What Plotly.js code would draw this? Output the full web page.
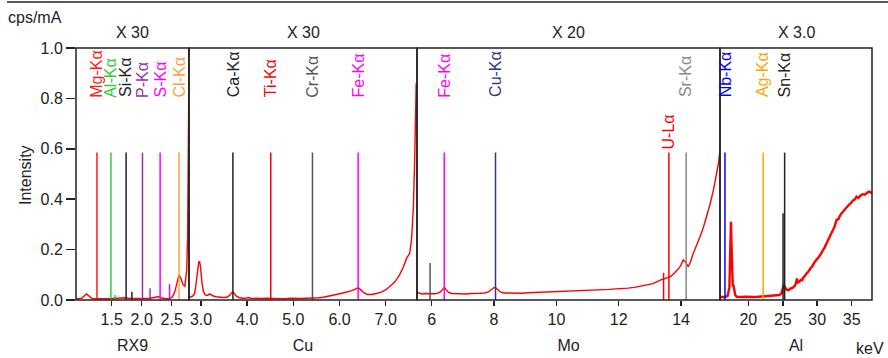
<!DOCTYPE html>
<html>
<head>
<meta charset="utf-8">
<script src="https://cdn.plot.ly/plotly-3.0.1.min.js"></script>
<style>html,body{margin:0;padding:0;background:#fff;}#chart{width:888px;height:358px;}</style>
</head>
<body>
<div id="chart"></div>
<script>
// ---- Spectrum data (keV, cps/mA scaled) ----
const p1Energy = [0.905,0.95,1.0,1.03,1.06,1.08,1.1,1.13,1.17,1.22,1.28,1.35,1.42,1.5,1.58,1.65,1.69,1.73,1.8,1.88,1.96,2.04,2.12,2.2,2.25,2.28,2.32,2.38,2.45,2.5,2.53,2.56,2.6,2.62,2.65,2.69,2.72,2.75,2.765,2.775,2.782,2.788];
const p1Int    = [0.006,0.005,0.007,0.012,0.02,0.024,0.02,0.012,0.006,0.005,0.006,0.005,0.005,0.006,0.007,0.009,0.011,0.009,0.006,0.005,0.005,0.006,0.006,0.008,0.012,0.014,0.009,0.006,0.005,0.01,0.02,0.04,0.085,0.1,0.088,0.06,0.055,0.12,0.25,0.45,0.75,1.05];

const p2Energy = [2.74,2.78,2.82,2.86,2.89,2.92,2.95,2.97,2.99,3.02,3.05,3.09,3.14,3.18,3.22,3.27,3.33,3.4,3.48,3.56,3.62,3.66,3.69,3.72,3.76,3.82,3.9,3.98,4.02,4.08,4.18,4.3,4.42,4.55,4.68,4.8,4.93,5.05,5.18,5.3,5.42,5.55,5.65,5.75,5.85,5.95,6.05,6.15,6.25,6.33,6.4,6.45,6.52,6.6,6.7,6.8,6.9,7.0,7.1,7.2,7.3,7.38,7.45,7.52,7.56,7.6,7.63,7.65,7.66];
const p2Int    = [0.012,0.012,0.015,0.025,0.06,0.12,0.15,0.152,0.13,0.07,0.035,0.02,0.018,0.024,0.02,0.016,0.013,0.011,0.01,0.011,0.018,0.028,0.033,0.026,0.016,0.01,0.007,0.008,0.01,0.007,0.006,0.006,0.007,0.006,0.006,0.005,0.007,0.006,0.006,0.007,0.007,0.009,0.011,0.014,0.018,0.023,0.027,0.031,0.036,0.042,0.048,0.042,0.03,0.022,0.022,0.026,0.031,0.04,0.055,0.072,0.1,0.13,0.165,0.185,0.24,0.37,0.57,0.83,0.86];

const p3Energy = [5.53,5.6,5.7,5.8,5.9,6.0,6.1,6.2,6.28,6.34,6.4,6.46,6.54,6.65,6.8,6.95,7.1,7.25,7.4,7.55,7.7,7.82,7.92,8.0,8.06,8.12,8.2,8.32,8.5,8.7,8.9,9.1,9.3,9.5,9.7,9.9,10.1,10.3,10.5,10.7,10.9,11.1,11.3,11.5,11.7,11.9,12.1,12.3,12.5,12.7,12.9,13.1,13.33,13.5,13.65,13.8,13.97,14.07,14.15,14.23,14.3,14.39,14.5,14.61,14.72,14.82,14.93,15.04,15.12,15.2,15.25];
const p3Int    = [0.03,0.027,0.024,0.026,0.025,0.027,0.025,0.027,0.032,0.04,0.05,0.042,0.03,0.026,0.025,0.027,0.024,0.026,0.025,0.027,0.028,0.032,0.042,0.05,0.048,0.04,0.032,0.028,0.027,0.028,0.027,0.029,0.03,0.031,0.03,0.033,0.032,0.035,0.034,0.036,0.036,0.039,0.04,0.041,0.042,0.044,0.045,0.047,0.05,0.054,0.058,0.065,0.079,0.085,0.092,0.108,0.132,0.159,0.15,0.132,0.15,0.185,0.215,0.251,0.29,0.331,0.38,0.437,0.49,0.542,0.595];

const p4Energy = [15.89,16.2,16.6,17.0,17.25,17.38,17.48,17.56,17.64,17.74,17.84,17.95,18.1,18.3,18.6,19.0,19.5,20,20.5,21,21.5,22,22.5,23,23.5,24,24.5,24.8,25.0,25.15,25.3,25.5,25.8,26.1,26.4,26.7,26.9,27.05,27.2,27.4,27.6,27.8,28.0,28.2,28.46,28.7,29.0,29.3,29.6,29.9,30.2,30.5,30.8,31.1,31.36,31.6,31.9,32.2,32.5,32.8,33.1,33.4,33.7,34.0,34.3,34.6,34.9,35.2,35.5,35.7,36.0,36.3,36.6,36.9,37.2,37.5,37.7,37.94];
const p4Int    = [0.012,0.011,0.012,0.016,0.05,0.2,0.31,0.22,0.08,0.055,0.06,0.045,0.02,0.013,0.012,0.012,0.013,0.012,0.013,0.012,0.013,0.014,0.016,0.015,0.017,0.018,0.02,0.026,0.045,0.06,0.052,0.042,0.038,0.045,0.048,0.055,0.065,0.085,0.07,0.072,0.08,0.078,0.09,0.095,0.106,0.112,0.125,0.135,0.15,0.159,0.17,0.182,0.195,0.21,0.225,0.24,0.258,0.272,0.29,0.317,0.322,0.34,0.35,0.362,0.37,0.378,0.385,0.395,0.4,0.41,0.405,0.415,0.42,0.418,0.425,0.43,0.428,0.423];

// ---- Element marker lines ----
const lineNames  = ["Mg-Kα","Al-Kα","Si-Kα","P-Kα","S-Kα","Cl-Kα","Ca-Kα","Ti-Kα","Cr-Kα","Fe-Kα","Fe-Kα","Cu-Kα","U-Lα","Sr-Kα","Nb-Kα","Ag-Kα","Sn-Kα"];
const lineEnergy = [1.254,1.487,1.740,2.013,2.307,2.622,3.691,4.510,5.414,6.403,6.403,8.047,13.61,14.165,16.61,22.16,25.27];
const linePanel  = [1,1,1,1,1,1,2,2,2,2,3,3,3,3,4,4,4];
const lineHeight = [0.585,0.585,0.585,0.585,0.585,0.585,0.585,0.585,0.585,0.585,0.585,0.585,0.585,0.585,0.585,0.585,0.585];

const minorNames  = ["Al-Kβ","Si-Kβ","P-Kβ","S-Kβ","Cr-Kβ","U-Lα2","Sn-Kα2"];
const minorEnergy = [1.557,1.836,2.139,2.464,5.947,13.44,25.04];
const minorPanel  = [1,1,1,1,3,3,4];
const minorHeight = [0.02,0.033,0.047,0.063,0.147,0.108,0.344];

// ---- Axis labels ----
const panelTitles = ["RX9","Cu","Mo","Al"];
const panelScale  = ["X 30","X 30","X 20","X 3.0"];
const panelTicks  = [[1.5,2.0,2.5],[3,4,5,6,7],[6,8,10,12,14],[20,25,30,35]];
const panelTickText = [["1.5","2.0","2.5"],["3.0","4.0","5.0","6.0","7.0"],["6","8","10","12","14"],["20","25","30","35"]];
const yTicks = [0,0.2,0.4,0.6,0.8,1.0];
const yTickText = ["0.0","0.2","0.4","0.6","0.8","1.0"];

// ---- Styles ----
const colorOf = {
  "Mg":"#ff1a1a","Al":"#33cc33","Si":"#222222","P":"#9933aa","S":"#ff00ff","Cl":"#ffa040",
  "Ca":"#222222","Ti":"#ff0000","Cr":"#555555","Fe":"#ff00ff","Cu":"#333388","U":"#ff0000",
  "Sr":"#888888","Nb":"#0000ff","Ag":"#ffa500","Sn":"#222222"
};
const ranges = [[0.905,2.788],[2.74,7.678],[5.528,15.25],[15.89,37.95]];
const W = 888, H = 358, ML = 76, MR = 16, MT = 48, MB = 58;
const PW = W - ML - MR, PH = H - MT - MB;
const edgesPx = [76,189,417,720,872];
const dom = edgesPx.map(p => (p - ML) / PW);
const FONT = "Liberation Sans, Arial, sans-serif";
const INK = "#222222";

const specE = [p1Energy,p2Energy,p3Energy,p4Energy];
const specI = [p1Int,p2Int,p3Int,p4Int];
const axName = i => i === 0 ? "x" : "x" + (i + 1);

const traces = [];
for (let i = 0; i < 4; i++) {
  traces.push({x: specE[i], y: specI[i], xaxis: axName(i), yaxis: "y", type: "scatter", mode: "lines",
    line: {color: "#ff0000", width: i === 3 ? 2.4 : 1.4}, hoverinfo: "skip", showlegend: false, cliponaxis: true});
}
const el = n => n.split("-")[0];
lineNames.forEach((n, k) => {
  traces.push({x: [lineEnergy[k], lineEnergy[k]], y: [0, lineHeight[k]], xaxis: axName(linePanel[k]-1), yaxis: "y",
    type: "scatter", mode: "lines", line: {color: colorOf[el(n)], width: 1.5}, hoverinfo: "skip", showlegend: false});
});
minorNames.forEach((n, k) => {
  traces.push({x: [minorEnergy[k], minorEnergy[k]], y: [0, minorHeight[k]], xaxis: axName(minorPanel[k]-1), yaxis: "y",
    type: "scatter", mode: "lines", line: {color: colorOf[el(n)], width: 1.5}, hoverinfo: "skip", showlegend: false});
});

const layout = {
  width: W, height: H, margin: {l: ML, r: MR, t: MT, b: MB},
  paper_bgcolor: "#ffffff", plot_bgcolor: "#ffffff",
  font: {family: FONT, size: 16, color: INK},
  showlegend: false,
  yaxis: {range: [0, 1], anchor: "x", domain: [0, 1], tickvals: yTicks, ticktext: yTickText,
    ticks: "outside", ticklen: 9, tickwidth: 1.5, tickcolor: INK, showgrid: false, zeroline: false,
    showline: false, tickfont: {size: 16, color: INK}, fixedrange: true},
  shapes: [], annotations: []
};
for (let i = 0; i < 4; i++) {
  const key = i === 0 ? "xaxis" : "xaxis" + (i + 1);
  layout[key] = {domain: [dom[i], dom[i+1]], range: ranges[i], anchor: "y",
    tickvals: panelTicks[i], ticktext: panelTickText[i], ticks: "outside", ticklen: 5, tickwidth: 1.5,
    tickcolor: INK, showgrid: false, zeroline: false, showline: false, fixedrange: true,
    tickfont: {size: 16, color: INK},
    title: {text: panelTitles[i], font: {size: 16, color: INK}, standoff: 12}};
  layout.shapes.push({type: "rect", xref: "paper", yref: "paper", x0: dom[i], x1: dom[i+1], y0: 0, y1: 1,
    line: {color: INK, width: 1.5}, layer: "above"});
  layout.annotations.push({text: panelScale[i], xref: axName(i) + " domain", yref: "paper", x: 0.5,
    y: (300 - 32) / PH, xanchor: "center", yanchor: "middle", showarrow: false, font: {size: 16, color: INK}});
}
// top border line
layout.shapes.push({type: "line", xref: "paper", yref: "paper", x0: (7 - ML) / PW, x1: (888 - ML) / PW,
  y0: (300 - 2) / PH, y1: (300 - 2) / PH, line: {color: INK, width: 1.5}});
// element labels
lineNames.forEach((n, k) => {
  const isU = n === "U-Lα";
  layout.annotations.push({text: n, xref: axName(linePanel[k]-1), yref: "y", x: lineEnergy[k],
    y: isU ? 0.595 : 0.8, textangle: -90, xanchor: "center", yanchor: "bottom", showarrow: false,
    borderpad: 0, font: {size: 16, color: colorOf[el(n)]}});
});
layout.annotations.push({text: "cps/mA", xref: "paper", yref: "paper", x: (6 - ML) / PW, y: (300 - 18) / PH,
  xanchor: "left", yanchor: "middle", showarrow: false, font: {size: 16, color: INK}});
layout.annotations.push({text: "Intensity", xref: "paper", yref: "paper", x: (25 - ML) / PW, y: (300 - 175) / PH,
  xanchor: "center", yanchor: "middle", textangle: -90, showarrow: false, font: {size: 16, color: INK}});
layout.annotations.push({text: "keV", xref: "paper", yref: "paper", x: (870 - ML) / PW, y: (300 - 348) / PH,
  xanchor: "center", yanchor: "middle", showarrow: false, font: {size: 16, color: INK}});

Plotly.newPlot("chart", traces, layout, {staticPlot: true, displayModeBar: false});
</script>
</body>
</html>
